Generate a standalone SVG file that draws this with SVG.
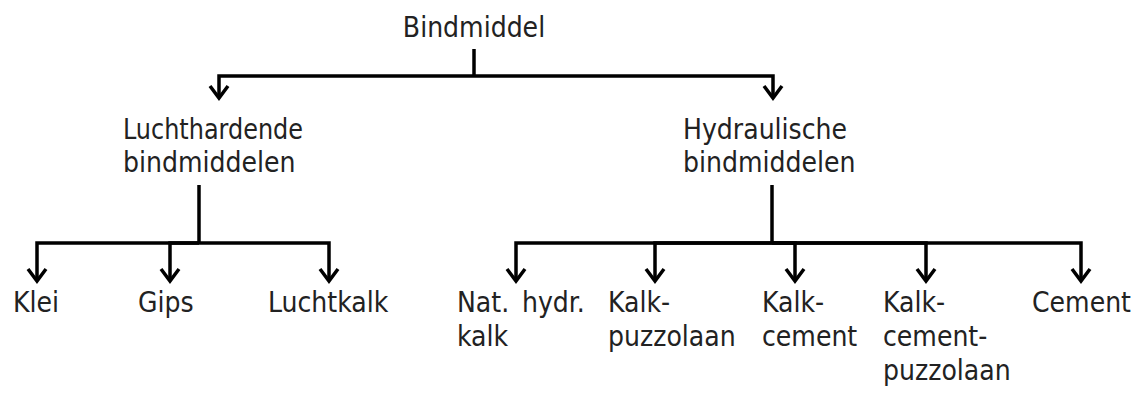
<svg xmlns="http://www.w3.org/2000/svg" width="1141" height="396" viewBox="0 0 1141 396">
<style>
text{font-family:"DejaVu Sans Condensed","DejaVu Sans",sans-serif;font-size:28px;fill:#222;}
.c{fill:none;stroke:#000;stroke-width:3.5;stroke-linejoin:miter;}
</style>
<defs>
<marker id="ah" markerUnits="userSpaceOnUse" markerWidth="30" markerHeight="30" viewBox="-15 -15 30 30" refX="0" refY="0" orient="auto">
<path d="M-12,-9 L0,0 L-12,9" fill="none" stroke="#000" stroke-width="3.5" stroke-linejoin="miter"/>
</marker>
</defs>
<rect width="1141" height="396" fill="#fff"/>
<g id="connectors" class="c">
<path d="M474,49 V76"/>
<path d="M474,76 H219 V98" marker-end="url(#ah)"/>
<path d="M474,76 H773 V98" marker-end="url(#ah)"/>
<path d="M199,185 V243"/>
<path d="M199,243 H37 V281" marker-end="url(#ah)"/>
<path d="M199,243 H170 V281" marker-end="url(#ah)"/>
<path d="M199,243 H329 V281" marker-end="url(#ah)"/>
<path d="M772,185 V243"/>
<path d="M772,243 H516 V281" marker-end="url(#ah)"/>
<path d="M772,243 H655 V281" marker-end="url(#ah)"/>
<path d="M772,243 H795 V281" marker-end="url(#ah)"/>
<path d="M772,243 H926 V281" marker-end="url(#ah)"/>
<path d="M772,243 H1081 V281" marker-end="url(#ah)"/>
</g>
<g id="bindmiddel"><text x="474" y="37" text-anchor="middle">Bindmiddel</text></g>
<g id="luchthardende"><text x="123" y="139" textLength="180" lengthAdjust="spacingAndGlyphs">Luchthardende</text><text x="123" y="172">bindmiddelen</text></g>
<g id="hydraulische"><text x="683" y="139">Hydraulische</text><text x="683" y="172">bindmiddelen</text></g>
<g id="klei"><text x="13" y="312">Klei</text></g>
<g id="gips"><text x="138" y="312">Gips</text></g>
<g id="luchtkalk"><text x="268" y="312">Luchtkalk</text></g>
<g id="nathydrkalk"><text x="457" y="312">Nat.</text><text x="522" y="312">hydr.</text><text x="457" y="346">kalk</text></g>
<g id="kalkpuzzolaan"><text x="608" y="312">Kalk-</text><text x="608" y="346">puzzolaan</text></g>
<g id="kalkcement"><text x="762" y="312">Kalk-</text><text x="762" y="346">cement</text></g>
<g id="kalkcementpuzzolaan"><text x="883" y="312">Kalk-</text><text x="883" y="346">cement-</text><text x="883" y="380">puzzolaan</text></g>
<g id="cement"><text x="1032" y="312">Cement</text></g>
</svg>
